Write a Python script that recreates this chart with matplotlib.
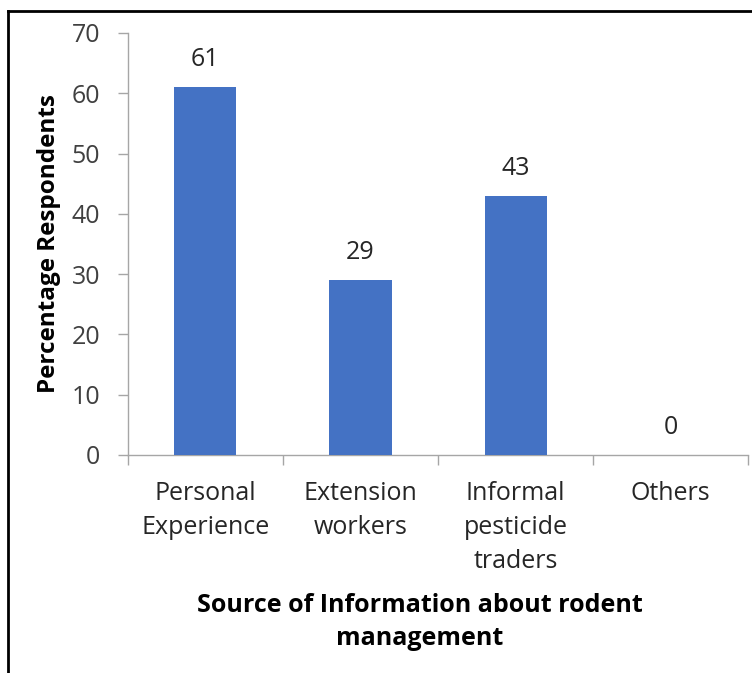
import matplotlib
matplotlib.use("Agg")
import matplotlib.pyplot as plt
from matplotlib.lines import Line2D

categories = ["Personal\nExperience", "Extension\nworkers", "Informal\npesticide\ntraders", "Others"]
values = [61, 29, 43, 0]
y_ticks = [0, 10, 20, 30, 40, 50, 60, 70]

plt.rcParams['font.family'] = ['Open Sans', 'DejaVu Sans']

fig = plt.figure(figsize=(7.52, 6.73), dpi=100)
ax = fig.add_axes([0.170, 0.324, 0.825, 0.627])

x = list(range(len(categories)))
ax.bar(x, values, width=0.4, color="#4472C4", zorder=3)
for xi, v in zip(x, values):
    ax.text(xi, v + 3.5, f"{v}", ha="center", va="baseline", fontsize=18, color="#262626")

ax.set_xlim(-0.5, len(categories) - 0.5)
ax.set_ylim(0, 70)
ax.set_yticks(y_ticks)
ax.set_yticklabels([str(t) for t in y_ticks], fontsize=18, color="#404040")

# category ticks sit on the boundaries between groups
ax.set_xticks([i - 0.5 for i in range(len(categories) + 1)])
ax.set_xticklabels([])
ax.set_xticks(x, minor=True)
ax.set_xticklabels(categories, minor=True, fontsize=18, color="#262626", linespacing=1.46, va="top")
ax.tick_params(axis="x", which="minor", length=0, pad=19)
ax.tick_params(axis="x", which="major", length=7, color="#A6A6A6", width=1)
ax.tick_params(axis="y", length=7, color="#A6A6A6", width=1, pad=13)

for s in ["top", "right"]:
    ax.spines[s].set_visible(False)
for s in ["left", "bottom"]:
    ax.spines[s].set_color("#A6A6A6")
    ax.spines[s].set_linewidth(1)

ax.set_ylabel("Percentage Respondents", fontsize=17.5, fontweight="bold", color="black", labelpad=7.5)
fig.text(0.5585, 0.0755, "Source of Information about rodent\nmanagement", ha="center", va="center",
         fontsize=18, fontweight="bold", color="black", linespacing=1.45)

# frame lines on the top and left edges
fig.add_artist(Line2D([0.0106, 1.0], [0.9837, 0.9837], transform=fig.transFigure, color="black", linewidth=2))
fig.add_artist(Line2D([0.0106, 0.0106], [0.0, 0.9837], transform=fig.transFigure, color="black", linewidth=2))

fig.savefig("out.png", dpi=100, facecolor="white")
